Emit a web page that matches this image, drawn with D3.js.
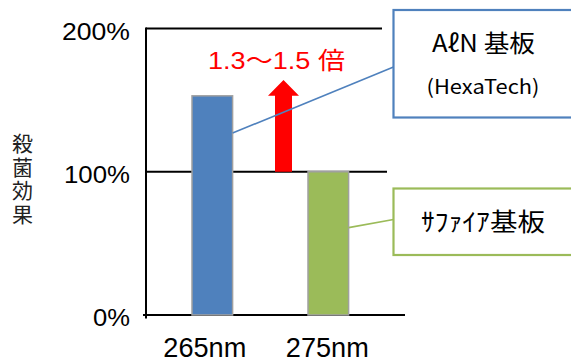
<!DOCTYPE html>
<html>
<head>
<meta charset="utf-8">
<script src="https://cdn.jsdelivr.net/npm/d3@7"></script>
<style>
  html, body { margin: 0; padding: 0; background: #fff; }
  svg { display: block; }
</style>
</head>
<body>
<svg id="chart" width="571" height="363"></svg>
<script>
// ---- data ----
const categories = ["265nm", "275nm"];
const values = [153, 100];            // 殺菌効果 (%)
const barColors = ["#4f81bd", "#9bbb59"];
const yTicks = [0, 100, 200];
const yTickLabels = ["0%", "100%", "200%"];
const yTitle = "殺菌効果";
const ratioLabel = "1.3〜1.5 倍";
const arrowFrom = 100, arrowHeadBase = 153, arrowTip = 164;
const boxTitles = ["AℓN 基板", "ｻﾌｧｲｱ基板"];
const boxSubtitle = "(HexaTech)";
const leaderAnchors = [127, 61];      // value height where leader lines leave the bars

// ---- layout ----
const svg = d3.select("#chart");
const x = d3.scaleBand().domain(categories).range([134, 406.6]).paddingInner(0.65).paddingOuter(0.5);
const y = d3.scaleLinear().domain([0, 200]).range([315, 28.5]);
const axisX = 146;
const sans = "'Liberation Sans', Arial, 'Noto Sans CJK JP', sans-serif";
const cjk = "'Noto Sans CJK JP', 'Noto Sans', sans-serif";

// grid / frame lines
const gridEnds = {0: 405, 100: 387, 200: 382};
svg.selectAll("line.grid").data(yTicks).join("line")
  .attr("class", "grid")
  .attr("x1", d => d === 0 ? axisX - 3 : axisX)
  .attr("x2", d => gridEnds[d])
  .attr("y1", d => y(d)).attr("y2", d => y(d))
  .attr("stroke", "#000").attr("stroke-width", 2);

// y axis line
svg.append("line")
  .attr("x1", axisX).attr("x2", axisX)
  .attr("y1", y(200) - 1).attr("y2", y(0) + 3.5)
  .attr("stroke", "#000").attr("stroke-width", 2);

// y tick labels
const tickLen = {"0%": 37, "100%": 66, "200%": 68};
svg.selectAll("text.ytick").data(yTicks).join("text")
  .attr("class", "ytick")
  .attr("x", 130)
  .attr("y", d => y(d) + 11)
  .attr("text-anchor", "end")
  .attr("font-family", sans)
  .attr("font-size", 23.5)
  .attr("textLength", (d, i) => tickLen[yTickLabels[i]])
  .attr("lengthAdjust", "spacingAndGlyphs")
  .attr("fill", "#000")
  .text((d, i) => yTickLabels[i]);

// y title (vertical)
svg.append("text")
  .attr("x", 22.5)
  .attr("y", 180)
  .attr("text-anchor", "middle")
  .style("writing-mode", "vertical-rl")
  .style("letter-spacing", "2.5px")
  .attr("font-family", cjk)
  .attr("font-size", 21)
  .attr("fill", "#222")
  .text(yTitle);

// bars
svg.selectAll("rect.bar").data(values).join("rect")
  .attr("class", "bar")
  .attr("x", (d, i) => x(categories[i]))
  .attr("width", x.bandwidth())
  .attr("y", d => y(d))
  .attr("height", d => y(0) - y(d))
  .attr("fill", (d, i) => barColors[i])
  .attr("stroke", "#a0a0a0")
  .attr("stroke-width", 1.5);

// category labels
const catShift = [-7.5, -1];
svg.selectAll("text.cat").data(categories).join("text")
  .attr("class", "cat")
  .attr("x", (d, i) => x(d) + x.bandwidth() / 2 + catShift[i])
  .attr("y", 357)
  .attr("text-anchor", "middle")
  .attr("font-family", sans)
  .attr("font-size", 27)
  .attr("textLength", 83)
  .attr("lengthAdjust", "spacingAndGlyphs")
  .attr("fill", "#000")
  .text(d => d);

// red arrow
const ax = 283.5, shaftHalf = 8.5, headHalf = 15.5;
const arrowPts = [
  [ax - shaftHalf, y(arrowFrom)], [ax - shaftHalf, y(arrowHeadBase)], [ax - headHalf, y(arrowHeadBase)],
  [ax, y(arrowTip)], [ax + headHalf, y(arrowHeadBase)], [ax + shaftHalf, y(arrowHeadBase)],
  [ax + shaftHalf, y(arrowFrom)]
];
svg.append("path")
  .attr("d", d3.line()(arrowPts) + "Z")
  .attr("fill", "#ff0000");

// ratio label
svg.append("text")
  .attr("x", 276.5).attr("y", 68.5)
  .attr("text-anchor", "middle")
  .attr("font-family", sans)
  .attr("font-size", 23.5)
  .attr("textLength", 137)
  .attr("lengthAdjust", "spacingAndGlyphs")
  .attr("fill", "#ff0000")
  .text(ratioLabel);

// callout boxes
const boxes = [
  {x: 393.5, y: 10, w: 190, h: 107.5, color: barColors[0]},
  {x: 393.5, y: 188.5, w: 190, h: 66.5, color: barColors[1]}
];
// leader lines
svg.selectAll("line.leader").data(boxes).join("line")
  .attr("class", "leader")
  .attr("x1", (b, i) => x(categories[i]) + x.bandwidth())
  .attr("y1", (b, i) => y(leaderAnchors[i]))
  .attr("x2", b => b.x)
  .attr("y2", (b, i) => i === 0 ? 67 : 219.5)
  .attr("stroke", b => b.color)
  .attr("stroke-width", 1.6);

svg.selectAll("rect.box").data(boxes).join("rect")
  .attr("class", "box")
  .attr("x", b => b.x).attr("y", b => b.y)
  .attr("width", b => b.w).attr("height", b => b.h)
  .attr("fill", "#fff")
  .attr("stroke", b => b.color)
  .attr("stroke-width", 2.2);

// box texts
svg.append("text")
  .attr("x", 483.5).attr("y", 52)
  .attr("text-anchor", "middle")
  .attr("font-family", cjk)
  .attr("font-size", 24)
  .attr("textLength", 103)
  .attr("lengthAdjust", "spacingAndGlyphs")
  .attr("fill", "#000")
  .text(boxTitles[0]);

svg.append("text")
  .attr("x", 483).attr("y", 94)
  .attr("text-anchor", "middle")
  .attr("font-family", cjk)
  .attr("font-size", 20)
  .attr("textLength", 113)
  .attr("lengthAdjust", "spacingAndGlyphs")
  .attr("fill", "#000")
  .text(boxSubtitle);

svg.append("text")
  .attr("x", 483).attr("y", 231)
  .attr("text-anchor", "middle")
  .attr("font-family", cjk)
  .attr("font-size", 25)
  .attr("textLength", 124)
  .attr("lengthAdjust", "spacingAndGlyphs")
  .attr("fill", "#000")
  .text(boxTitles[1]);
</script>
</body>
</html>
